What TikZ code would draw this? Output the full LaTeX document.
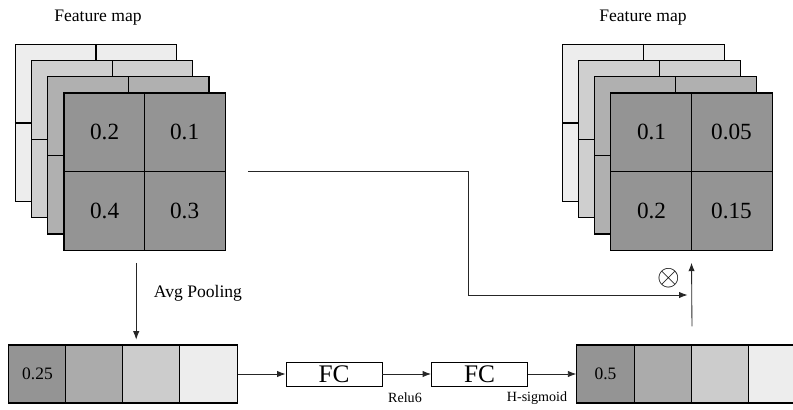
\documentclass[tikz,border=0pt]{standalone}
\usepackage{fontspec}
\setmainfont{Liberation Serif}
\usetikzlibrary{arrows.meta,calc,positioning}
\definecolor{mapA}{gray}{0.93}
\definecolor{mapB}{gray}{0.81}
\definecolor{mapC}{gray}{0.69}
\definecolor{mapD}{gray}{0.58}
\definecolor{vecB}{gray}{0.67}
\definecolor{vecC}{gray}{0.80}

\begin{document}
\begin{tikzpicture}[x=0.025cm,y=-0.025cm,>={Latex[length=6pt,width=4.5pt]},
  layer/.style={draw,line width=0.8pt,minimum width=4.03cm,minimum height=3.93cm,inner sep=0pt},
  cell/.style={draw,line width=0.8pt,minimum width=1.43cm,minimum height=1.45cm,inner sep=0pt,font=\fontsize{12.4}{12.4}\selectfont},
  fcbox/.style={draw,line width=0.6pt,minimum width=2.4cm,minimum height=0.6cm,inner sep=0pt,font=\fontsize{18}{18}\selectfont},
  conn/.style={->,line width=0.6pt,black!85},
  val/.style={font=\fontsize{16.5}{16.5}\selectfont},
  lbl/.style={font=\fontsize{12.5}{12.5}\selectfont},
  actlbl/.style={font=\fontsize{10}{10}\selectfont}]
\clip (0,0) rectangle (793,409);

% input feature map
\foreach \i/\col in {1/mapA,2/mapB,3/mapC,4/mapD}{
  \node[layer,fill=\col] (L\i) at ({96+16.2*(\i-1)},{123+16.2*(\i-1)}) {};
  \draw[line width=0.8pt] (L\i.north) -- (L\i.south) (L\i.west) -- (L\i.east);
}
\node[val] (l11) at ($(L4.center)+(-40,-39.5)$) {0.2};
\node[val] (l12) at ($(L4.center)+(40,-39.5)$) {0.1};
\node[val] (l21) at ($(L4.center)+(-40,39.5)$) {0.4};
\node[val] (l22) at ($(L4.center)+(40,39.5)$) {0.3};
\node[lbl] (ltitle) at (98,18) {Feature map};

% output feature map
\foreach \i/\col in {1/mapA,2/mapB,3/mapC,4/mapD}{
  \node[layer,fill=\col] (R\i) at ({643.5+16*(\i-1)},{123+16.2*(\i-1)}) {};
  \draw[line width=0.8pt] (R\i.north) -- (R\i.south) (R\i.west) -- (R\i.east);
}
\node[val] (r11) at ($(R4.center)+(-40,-39.5)$) {0.1};
\node[val] (r12) at ($(R4.center)+(40,-39.5)$) {0.05};
\node[val] (r21) at ($(R4.center)+(-40,39.5)$) {0.2};
\node[val] (r22) at ($(R4.center)+(40,39.5)$) {0.15};
\node[lbl] (rtitle) at (643,18) {Feature map};

% squeeze and excite vectors
\foreach \j/\col/\txt in {1/mapD/0.25,2/vecB/{},3/vecC/{},4/mapA/{}}
  \node[cell,fill=\col] (v\j) at ({37.5+57*(\j-1)},374) {\txt};
\foreach \j/\col/\txt in {1/mapD/0.5,2/vecB/{},3/vecC/{},4/mapA/{}}
  \node[cell,fill=\col] (w\j) at ({605.5+57.3*(\j-1)},374) {\txt};

\node[fcbox] (fc1) at (334,374) {FC};
\node[fcbox] (fc2) at (479.5,374) {FC};
\node[actlbl] (relu) at (405,398) {Relu6};
\node[actlbl] (hsig) at (537,398) {H-sigmoid};

\draw[conn] (v4.east) -- (fc1.west);
\draw[conn] (fc1.east) -- (fc2.west);
\draw[conn] (fc2.east) -- (w1.west);

\draw[conn,shorten >=0.42cm] ([xshift=-0.21cm,yshift=-0.3cm]L4.south)
  -- ([xshift=-0.21cm,yshift=-0.3cm]L4.south |- v3.north);
\node[lbl] (pool) at (198,293) {Avg Pooling};

% scaling path
\coordinate (bend) at (468,295);
\draw[conn,shorten >=0.1cm] ([xshift=0.55cm]L4.east) -| (bend) -- (bend -| R4.south);
\draw[conn] ([yshift=0.45cm]w2.north east) -- ([yshift=-0.3cm]R4.south);
\node[font=\fontsize{21}{21}\selectfont] (mul) at (669,278) {$\otimes$};
\end{tikzpicture}
\end{document}
